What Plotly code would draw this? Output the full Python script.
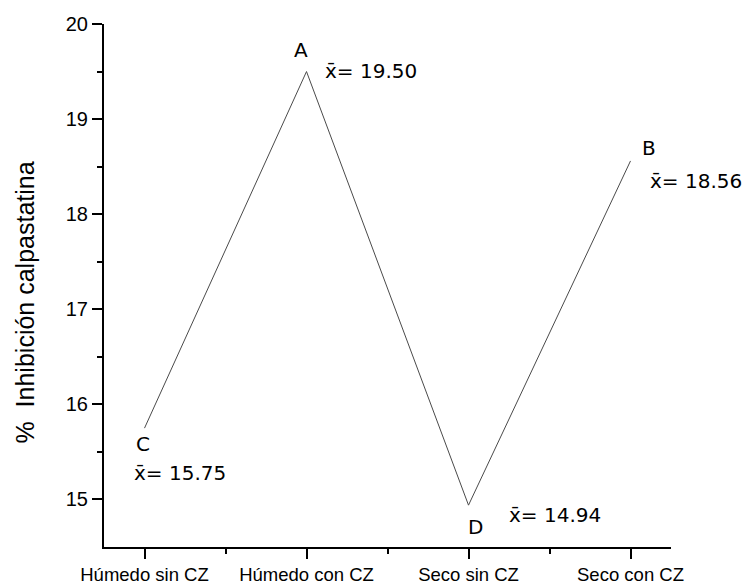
import plotly.graph_objects as go

# Treatment groups and mean calpastatin inhibition (%)
categories = ["Húmedo sin CZ", "Húmedo con CZ", "Seco sin CZ", "Seco con CZ"]
means = [15.75, 19.50, 14.94, 18.56]
groups = ["C", "A", "D", "B"]

y_ticks = [15, 16, 17, 18, 19, 20]

x_pos = list(range(len(categories)))

# Pixel offsets of the group letter and the mean label from each point
letter_offsets = [(-2, -16), (-6, 22), (7, -22), (18, 13)]
label_offsets = [(-13, -45), (16, 1), (38, -10), (17, -20)]

ann_font = dict(family="DejaVu Sans", size=20, color="black")

fig = go.Figure()
fig.add_trace(go.Scatter(
    x=x_pos, y=means, mode="lines",
    line=dict(color="#4a4a4a", width=1),
    hoverinfo="skip", showlegend=False,
))

annotations = []
for xi, m, g, (lx, ly), (mx, my) in zip(x_pos, means, groups, letter_offsets, label_offsets):
    annotations.append(dict(
        x=xi, y=m, xref="x", yref="y", text=g, showarrow=False,
        xanchor="center", yanchor="middle", xshift=lx, yshift=ly, font=ann_font,
    ))
    annotations.append(dict(
        x=xi, y=m, xref="x", yref="y", text=f"x\u0304= {m:.2f}", showarrow=False,
        xanchor="left", yanchor="middle", xshift=mx, yshift=my, font=ann_font,
    ))

# Rotated y-axis title
annotations.append(dict(
    x=0, y=0.5, xref="paper", yref="paper", text="%\u00a0 Inhibición calpastatina",
    textangle=-90, showarrow=False, xanchor="center", yanchor="middle",
    xshift=-80, yshift=-17,
    font=dict(family="Liberation Sans, Arial", size=25, color="black"),
))

fig.update_layout(
    width=747, height=584,
    margin=dict(l=104, r=76, t=24, b=37, autoexpand=False),
    paper_bgcolor="white", plot_bgcolor="white",
    annotations=annotations,
    xaxis=dict(
        range=[-0.25, 3.25], tickmode="array", tickvals=x_pos, ticktext=categories,
        automargin=False,
        showline=True, linecolor="black", linewidth=2,
        ticks="outside", ticklen=10, tickwidth=2, tickcolor="black",
        showgrid=False, zeroline=False,
        tickfont=dict(family="Liberation Sans, Arial", size=18.5, color="black"),
        minor=dict(tickvals=[0.5, 1.5, 2.5], ticks="outside", ticklen=5,
                   tickwidth=2, tickcolor="black", showgrid=False),
    ),
    yaxis=dict(
        range=[14.5, 20], tickmode="array", tickvals=y_ticks,
        ticktext=[str(v) for v in y_ticks],
        automargin=False,
        showline=True, linecolor="black", linewidth=2,
        ticks="outside", ticklen=10, tickwidth=2, tickcolor="black",
        showgrid=False, zeroline=False,
        tickfont=dict(family="Liberation Sans, Arial", size=20, color="black"),
        minor=dict(tickvals=[15.5, 16.5, 17.5, 18.5, 19.5], ticks="outside",
                   ticklen=5, tickwidth=2, tickcolor="black", showgrid=False),
    ),
)

fig.write_html("out.html")
